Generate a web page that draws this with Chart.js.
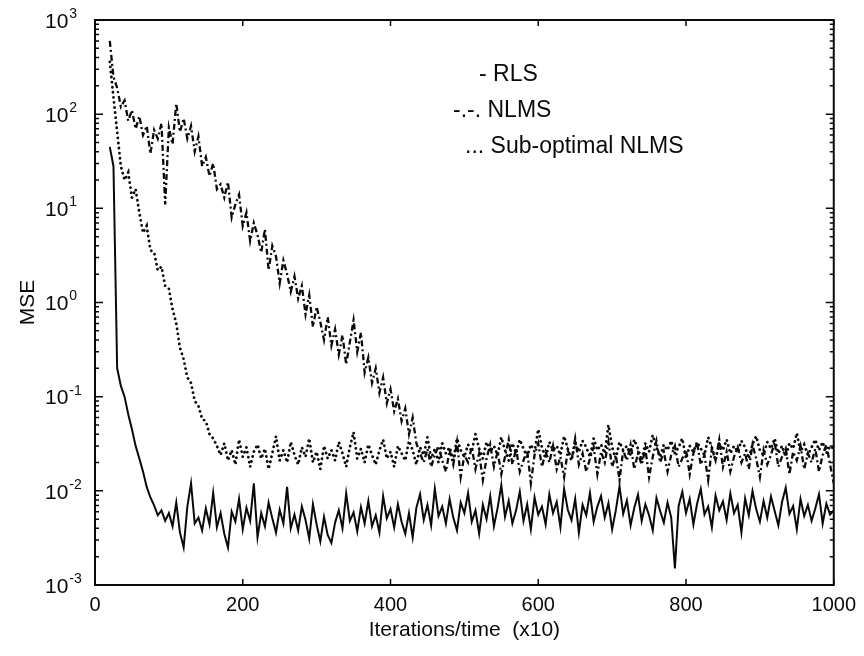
<!DOCTYPE html>
<html>
<head>
<meta charset="utf-8">
<script src="https://cdn.jsdelivr.net/npm/chart.js@4.4.1/dist/chart.umd.min.js"></script>
<style>
  html, body { margin: 0; padding: 0; background: #ffffff; }
  #wrap { width: 864px; height: 656px; position: relative; }
</style>
</head>
<body>
<div id="wrap"><canvas id="c" width="864" height="656"></canvas></div>
<script>
// ---------------- data ----------------
const iterations = [
  20,25,30,35,40,45,50,55,60,65,
  70,75,80,85,90,95,100,105,110,115,
  120,125,130,135,140,145,150,155,160,165,
  170,175,180,185,190,195,200,205,210,215,
  220,225,230,235,240,245,250,255,260,265,
  270,275,280,285,290,295,300,305,310,315,
  320,325,330,335,340,345,350,355,360,365,
  370,375,380,385,390,395,400,405,410,415,
  420,425,430,435,440,445,450,455,460,465,
  470,475,480,485,490,495,500,505,510,515,
  520,525,530,535,540,545,550,555,560,565,
  570,575,580,585,590,595,600,605,610,615,
  620,625,630,635,640,645,650,655,660,665,
  670,675,680,685,690,695,700,705,710,715,
  720,725,730,735,740,745,750,755,760,765,
  770,775,780,785,790,795,800,805,810,815,
  820,825,830,835,840,845,850,855,860,865,
  870,875,880,885,890,895,900,905,910,915,
  920,925,930,935,940,945,950,955,960,965,
  970,975,980,985,990,995,1000
];

const rlsMSE = [
  45, 28, 0.2, 0.13, 0.1, 0.065, 0.045, 0.03, 0.022, 0.016,
  0.011, 0.0085, 0.007, 0.0055, 0.0062, 0.0048, 0.0058, 0.0042, 0.0075, 0.0036,
  0.0025, 0.0068, 0.012, 0.0045, 0.0052, 0.0038, 0.0065, 0.0044, 0.0095, 0.0041,
  0.0058, 0.0035, 0.0025, 0.006, 0.0047, 0.0082, 0.0039, 0.0066, 0.0048, 0.012,
  0.0032, 0.0058, 0.0042, 0.0075, 0.0051, 0.0036, 0.0063, 0.0045, 0.011, 0.004,
  0.0056, 0.0038, 0.0068, 0.0049, 0.0031, 0.0072, 0.0044, 0.0029, 0.0053, 0.0034,
  0.0028, 0.0046, 0.0062, 0.004, 0.0094, 0.0048, 0.0059, 0.0037, 0.0067, 0.0045,
  0.0078, 0.0042, 0.0055, 0.0036, 0.0088, 0.0051, 0.0064, 0.0041, 0.0072, 0.0047,
  0.0035, 0.0058, 0.0032, 0.0066, 0.0092, 0.0049, 0.0071, 0.0043, 0.0105, 0.0054,
  0.0068, 0.0045, 0.0082, 0.0052, 0.0038, 0.0075, 0.0058, 0.0095, 0.0047, 0.0062,
  0.0035, 0.0071, 0.005, 0.0088, 0.0042, 0.0066, 0.0115, 0.0053, 0.0078, 0.0045,
  0.0062, 0.0098, 0.0048, 0.0072, 0.0039, 0.0085, 0.0056, 0.0068, 0.0044, 0.0092,
  0.0058, 0.0076, 0.0041, 0.0105, 0.0063, 0.0049, 0.0082, 0.0036, 0.0071, 0.0055,
  0.0095, 0.0047, 0.0068, 0.0088, 0.0052, 0.0074, 0.0039, 0.0062, 0.0112, 0.0057,
  0.0079, 0.0043, 0.0066, 0.0091, 0.0048, 0.0072, 0.0055, 0.0038, 0.0084, 0.0061,
  0.0046, 0.0075, 0.0052, 0.0015, 0.0069, 0.0098, 0.0058, 0.0082, 0.0044, 0.0073,
  0.0105, 0.0056, 0.0068, 0.0041, 0.0089, 0.0062, 0.0077, 0.0049, 0.0094, 0.0058,
  0.0071, 0.0036, 0.0083, 0.0055, 0.0099, 0.0064, 0.0047, 0.0078, 0.0052, 0.0087,
  0.0061, 0.0043, 0.0076, 0.0108, 0.0057, 0.0069, 0.0039, 0.0082, 0.0054, 0.0071,
  0.0048, 0.0065, 0.0092, 0.0045, 0.0073, 0.0056, 0.0062
];

const nlmsMSE = [
  600, 250, 190, 120, 140, 85, 110, 70, 95, 60,
  75, 38, 68, 55, 80, 11, 72, 48, 130, 65,
  90, 55, 75, 40, 58, 28, 35, 22, 30, 16,
  18, 13, 19, 8, 11, 14, 6.5, 9, 4.5, 7,
  5.2, 3.4, 6, 2.2, 4, 3.1, 1.6, 2.8, 2, 1.3,
  1.9, 1.1, 1.5, 0.75, 1.2, 0.55, 0.9, 0.62, 0.4, 0.7,
  0.35, 0.52, 0.28, 0.45, 0.22, 0.38, 0.65, 0.3, 0.48, 0.18,
  0.26, 0.14, 0.2, 0.11, 0.16, 0.085, 0.12, 0.07, 0.095, 0.055,
  0.075, 0.04, 0.06, 0.032, 0.025, 0.02, 0.028, 0.018, 0.024, 0.03,
  0.021, 0.016, 0.027, 0.019, 0.033, 0.014, 0.024, 0.02, 0.029, 0.017,
  0.025, 0.013, 0.022, 0.031, 0.018, 0.026, 0.015, 0.023, 0.035, 0.019,
  0.028, 0.016, 0.021, 0.027, 0.012, 0.024, 0.032, 0.018, 0.026, 0.02,
  0.03, 0.017, 0.023, 0.014, 0.027, 0.021, 0.036, 0.019, 0.025, 0.016,
  0.022, 0.029, 0.015, 0.026, 0.02, 0.033, 0.018, 0.024, 0.013, 0.027,
  0.021, 0.031, 0.017, 0.025, 0.019, 0.028, 0.014, 0.023, 0.034, 0.02,
  0.026, 0.016, 0.024, 0.03, 0.018, 0.022, 0.027, 0.015, 0.025, 0.032,
  0.019, 0.024, 0.013, 0.028, 0.021, 0.035, 0.018, 0.026, 0.016, 0.023,
  0.029, 0.02, 0.025, 0.017, 0.031, 0.022, 0.014, 0.027, 0.019, 0.024,
  0.033, 0.018, 0.023, 0.028, 0.015, 0.026, 0.021, 0.03, 0.017, 0.025,
  0.02, 0.028, 0.016, 0.024, 0.031, 0.019, 0.012
];

const subOptimalMSE = [
  360, 150, 65, 28, 20, 24, 13, 16, 9, 5.5,
  6.5, 3.6, 3.4, 2.2, 2.4, 1.5, 1.4, 0.85, 0.6, 0.33,
  0.25, 0.16, 0.14, 0.09, 0.08, 0.058, 0.055, 0.04, 0.036, 0.03,
  0.024, 0.032, 0.021, 0.027, 0.019, 0.035, 0.023, 0.029, 0.018, 0.026,
  0.031, 0.022, 0.028, 0.017, 0.025, 0.038, 0.021, 0.027, 0.02, 0.033,
  0.024, 0.019, 0.029, 0.023, 0.036, 0.02, 0.026, 0.017, 0.03, 0.022,
  0.027, 0.021, 0.033, 0.025, 0.018, 0.029, 0.042, 0.022, 0.028, 0.02,
  0.031, 0.024, 0.019, 0.027, 0.035, 0.022, 0.026, 0.018, 0.03, 0.025,
  0.021, 0.034, 0.027, 0.019, 0.029, 0.024, 0.037, 0.022, 0.028, 0.02,
  0.032, 0.025, 0.029, 0.021, 0.036, 0.027, 0.023, 0.031, 0.026, 0.04,
  0.028, 0.022, 0.033, 0.026, 0.03, 0.024, 0.037, 0.027, 0.021, 0.032,
  0.025, 0.035, 0.028, 0.023, 0.031, 0.026, 0.045, 0.029, 0.022, 0.033,
  0.027, 0.03, 0.024, 0.038, 0.028, 0.021, 0.032, 0.026, 0.034, 0.029,
  0.023, 0.036, 0.027, 0.031, 0.025, 0.05, 0.029, 0.022, 0.033, 0.027,
  0.03, 0.024, 0.035, 0.028, 0.021, 0.032, 0.026, 0.039, 0.029, 0.023,
  0.031, 0.027, 0.034, 0.025, 0.029, 0.036, 0.022, 0.03, 0.026, 0.033,
  0.028, 0.024, 0.037, 0.029, 0.021, 0.032, 0.027, 0.035, 0.025, 0.03,
  0.026, 0.034, 0.029, 0.022, 0.031, 0.038, 0.027, 0.024, 0.033, 0.028,
  0.036, 0.025, 0.03, 0.023, 0.032, 0.028, 0.041, 0.026, 0.031, 0.024,
  0.029, 0.035, 0.027, 0.033, 0.025, 0.03, 0.028
];

const seriesLabels = ['RLS', 'NLMS', 'Sub-optimal NLMS'];
const legendMarks  = ['-', '-.-.', '...'];
const xTickValues  = [0, 200, 400, 600, 800, 1000];
const yDecadeExps  = [-3, -2, -1, 0, 1, 2, 3];
const xTitle = 'Iterations/time  (x10)';
const yTitle = 'MSE';

// ---------------- chart ----------------
const FONT = '"Liberation Sans", Arial, sans-serif';
const INK = '#0a0a0a';

function toPoints(vals) {
  const n = Math.min(vals.length, iterations.length);
  const out = [];
  for (let i = 0; i < n; i++) out.push({ x: iterations[i], y: vals[i] });
  return out;
}

const framePlugin = {
  id: 'frameAndTicks',
  afterDraw(chart) {
    const { ctx, chartArea: a, scales } = chart;
    const xs = scales.x, ys = scales.y;
    ctx.save();
    ctx.strokeStyle = INK;
    ctx.lineWidth = 2;
    ctx.strokeRect(a.left, a.top, a.right - a.left, a.bottom - a.top);
    ctx.lineWidth = 1.5;
    ctx.beginPath();
    xTickValues.forEach(v => {
      const px = xs.getPixelForValue(v);
      ctx.moveTo(px, a.bottom); ctx.lineTo(px, a.bottom - 6);
      ctx.moveTo(px, a.top); ctx.lineTo(px, a.top + 6);
    });
    for (let e = -3; e <= 2; e++) {
      for (let m = 1; m <= 9; m++) {
        const v = m * Math.pow(10, e);
        const py = ys.getPixelForValue(v);
        const len = m === 1 ? 8 : 4;
        ctx.moveTo(a.left, py); ctx.lineTo(a.left + len, py);
        ctx.moveTo(a.right, py); ctx.lineTo(a.right - len, py);
      }
    }
    ctx.stroke();

    // y tick labels 10^k
    ctx.fillStyle = INK;
    ctx.textBaseline = 'middle';
    ctx.textAlign = 'left';
    yDecadeExps.forEach(k => {
      const py = ys.getPixelForValue(Math.pow(10, k));
      ctx.font = '21px ' + FONT;
      const baseX = 45;
      ctx.fillText('10', baseX, py + 2);
      const w = ctx.measureText('10').width;
      ctx.font = '14px ' + FONT;
      ctx.fillText(String(k), baseX + w + 1, py - 6);
    });

    // legend text (MATLAB style)
    ctx.font = '23px ' + FONT;
    const lx = [479, 453, 465];
    const ly = [75, 111, 147];
    chart.data.datasets.forEach((ds, i) => {
      ctx.fillText(legendMarks[i] + ' ' + ds.label, lx[i], ly[i]);
    });
    ctx.restore();
  }
};

new Chart(document.getElementById('c'), {
  type: 'line',
  data: {
    datasets: [
      {
        label: seriesLabels[0],
        data: toPoints(rlsMSE),
        borderColor: INK,
        borderWidth: 2,
        pointRadius: 0,
        tension: 0,
        fill: false
      },
      {
        label: seriesLabels[1],
        data: toPoints(nlmsMSE),
        borderColor: INK,
        borderWidth: 2.3,
        borderDash: [6, 3, 2, 3],
        pointRadius: 0,
        tension: 0,
        fill: false
      },
      {
        label: seriesLabels[2],
        data: toPoints(subOptimalMSE),
        borderColor: INK,
        borderWidth: 2.8,
        borderDash: [0.1, 5],
        borderCapStyle: 'round',
        pointRadius: 0,
        tension: 0,
        fill: false
      }
    ]
  },
  options: {
    responsive: false,
    animation: false,
    devicePixelRatio: 1,
    layout: { padding: { top: 20, right: 27, bottom: 0, left: 0 } },
    plugins: {
      legend: { display: false },
      tooltip: { enabled: false },
      title: { display: false }
    },
    scales: {
      x: {
        type: 'linear',
        min: 0,
        max: 1000,
        grid: { display: false, drawTicks: false },
        border: { display: false },
        ticks: {
          stepSize: 200,
          color: INK,
          padding: 8,
          maxRotation: 0,
          font: { family: FONT, size: 20 },
          callback: v => String(v)
        },
        title: {
          display: true,
          text: xTitle,
          color: INK,
          font: { family: FONT, size: 21 },
          padding: { top: 0, bottom: 13 }
        },
        afterFit(scale) { scale.height = 71; }
      },
      y: {
        type: 'logarithmic',
        min: 0.001,
        max: 1000,
        grid: { display: false, drawTicks: false },
        border: { display: false },
        ticks: { display: false },
        title: {
          display: true,
          text: yTitle,
          color: INK,
          font: { family: FONT, size: 21 },
          padding: { top: 16, bottom: 0 }
        },
        afterFit(scale) { scale.width = 95; }
      }
    }
  },
  plugins: [framePlugin]
});
</script>
</body>
</html>
